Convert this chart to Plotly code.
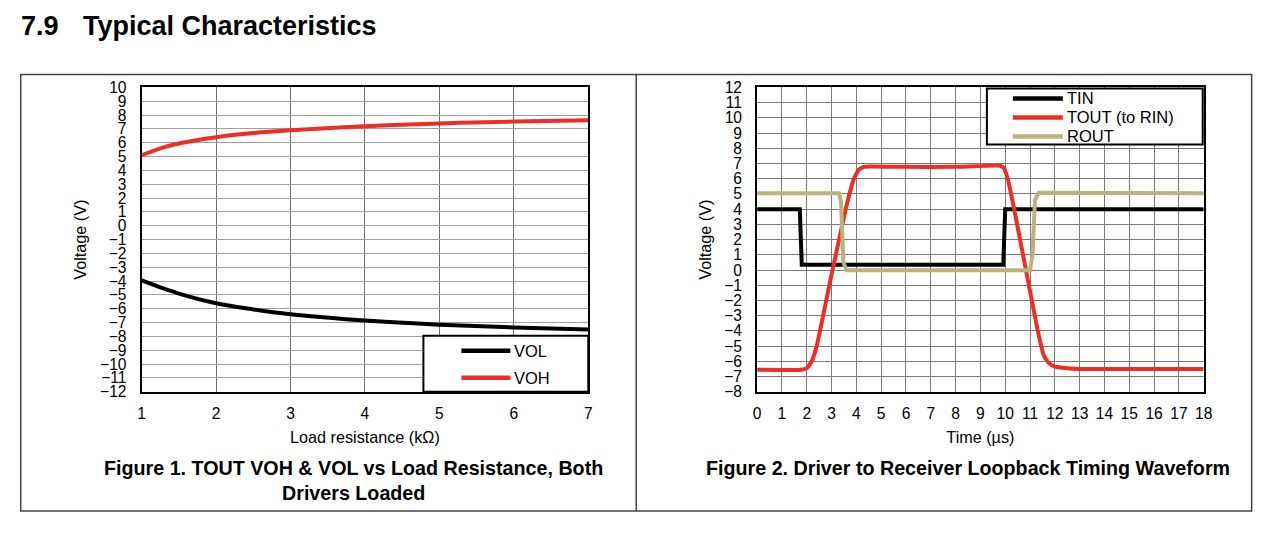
import plotly.graph_objects as go

# the page body keeps its 8px margin, so the figure is 16px smaller than the window
W, H = 1264, 532
OFF = 8
# the captured picture comes out slightly squeezed; these undo it
SX, BX = 0.9906, 3.3
SY, BY = 0.967, 9.9

# Figure 1: TOUT VOH & VOL vs load resistance
load_kohm = [1, 1.25, 1.5, 2, 2.5, 3, 4, 5, 6, 7]
vol = [-3.95, -4.45, -4.9, -5.6, -6.05, -6.4, -6.85, -7.15, -7.35, -7.5]
voh = [5.1, 5.6, 5.95, 6.4, 6.7, 6.9, 7.2, 7.4, 7.53, 7.63]

# Figure 2: loopback timing waveform
tin_t = [0, 1.72, 1.8, 9.92, 10.0, 18]
tin_v = [4, 4, 0.35, 0.35, 4, 4]

tout_t = [0, 1.8, 2.0, 2.2, 2.4, 3.0, 3.6, 3.9, 4.1, 4.3, 4.6, 6, 8, 9.8,
          9.95, 10.1, 10.3, 10.8, 11.3, 11.55, 11.75, 12.0, 12.5, 13, 18]
tout_v = [-6.55, -6.55, -6.45, -6.0, -5.0, -0.3, 4.2, 6.0, 6.6, 6.78, 6.8, 6.78,
          6.78, 6.85, 6.7, 6.0, 4.5, 0.3, -3.9, -5.6, -6.1, -6.35, -6.45, -6.5, -6.5]

rout_t = [0, 3.3, 3.38, 3.48, 3.6, 11.0, 11.1, 11.2, 11.35, 18]
rout_v = [5.05, 5.05, 4.5, 0.5, -0.02, -0.02, 1.0, 4.6, 5.08, 5.05]

RED = "#EE2E24"
OLIVE = "#BAB47C"
FONT = "Liberation Sans, Arial, sans-serif"


def px(x):
    return ((x - BX) / SX - OFF) / W


def py(y):
    return 1 - ((y - BY) / SY - OFF) / H


fig = go.Figure()

fig.add_trace(go.Scatter(x=load_kohm, y=vol, name="VOL", mode="lines",
                         line=dict(color="black", width=4, shape="spline")))
fig.add_trace(go.Scatter(x=load_kohm, y=voh, name="VOH", mode="lines",
                         line=dict(color=RED, width=4, shape="spline")))

fig.add_trace(go.Scatter(x=tin_t, y=tin_v, name="TIN", mode="lines",
                         line=dict(color="black", width=4),
                         xaxis="x2", yaxis="y2"))
fig.add_trace(go.Scatter(x=tout_t, y=tout_v, name="TOUT (to RIN)", mode="lines",
                         line=dict(color=RED, width=4, shape="spline", smoothing=0.4),
                         xaxis="x2", yaxis="y2"))
fig.add_trace(go.Scatter(x=rout_t, y=rout_v, name="ROUT", mode="lines",
                         line=dict(color=OLIVE, width=4),
                         xaxis="x2", yaxis="y2"))

axis_common = dict(showline=True, linecolor="black", linewidth=2, mirror=True,
                   ticks="", zeroline=False, dtick=1, gridwidth=1,
                   tickfont=dict(size=15.6, color="black"),
                   title_font=dict(size=16.2, color="black"))

fig.update_layout(
    width=W, height=H,
    margin=dict(l=0, r=0, t=0, b=0),
    paper_bgcolor="white", plot_bgcolor="white",
    font=dict(family=FONT, color="black"),
    showlegend=False,
    xaxis=dict(axis_common, domain=[px(141), px(588)], range=[1, 7],
               gridcolor="#6E6E6E", anchor="y", ticklabelstandoff=7,
               title=dict(text="Load resistance (kΩ)", standoff=10)),
    yaxis=dict(axis_common, domain=[py(392), py(88)], range=[-12, 10],
               gridcolor="#A0A0A0", anchor="x", ticklabelstandoff=10,
               title=dict(text="Voltage (V)", standoff=9)),
    xaxis2=dict(axis_common, domain=[px(757), px(1204)], range=[0, 18],
                gridcolor="#7A7A7A", anchor="y2", ticklabelstandoff=7,
                title=dict(text="Time (µs)", standoff=10)),
    yaxis2=dict(axis_common, domain=[py(392), py(88)], range=[-8, 12],
                gridcolor="#7A7A7A", anchor="x2", ticklabelstandoff=10,
                title=dict(text="Voltage (V)", standoff=9)),
)

shapes = [
    # outer frame and divider
    dict(type="rect", x0=px(20), x1=px(1252), y0=py(511), y1=py(75),
         line=dict(color="#444444", width=1.5)),
    dict(type="line", x0=px(636), x1=px(636), y0=py(511), y1=py(75),
         line=dict(color="#444444", width=1.5)),
    # legend boxes
    dict(type="rect", x0=px(423), x1=px(588), y0=py(392), y1=py(336),
         fillcolor="white", line=dict(color="black", width=2), layer="above"),
    dict(type="rect", x0=px(987), x1=px(1203), y0=py(145), y1=py(89),
         fillcolor="white", line=dict(color="black", width=2), layer="above"),
]

annotations = [
    dict(text="<b>7.9</b>", x=px(18), y=py(27), xanchor="left", yanchor="middle",
         font=dict(size=27)),
    dict(text="<b>Typical Characteristics</b>", x=px(80), y=py(27),
         xanchor="left", yanchor="middle", font=dict(size=27)),
    dict(text="<b>Figure 1. TOUT VOH & VOL vs Load Resistance, Both</b>",
         x=px(353), y=py(468), xanchor="center", yanchor="middle",
         font=dict(size=19.7)),
    dict(text="<b>Drivers Loaded</b>", x=px(353), y=py(493),
         xanchor="center", yanchor="middle", font=dict(size=19.7)),
    dict(text="<b>Figure 2. Driver to Receiver Loopback Timing Waveform</b>",
         x=px(968), y=py(468), xanchor="center", yanchor="middle",
         font=dict(size=19.7)),
]

# legends: a short line sample and the trace name, placed inside the boxes
legend_rows = [
    (fig.data[0], 461, 510, 351),
    (fig.data[1], 461, 510, 378),
    (fig.data[2], 1013, 1063, 99),
    (fig.data[3], 1013, 1063, 118),
    (fig.data[4], 1013, 1063, 137),
]
for tr, x0, x1, y in legend_rows:
    shapes.append(dict(type="line", x0=px(x0), x1=px(x1), y0=py(y), y1=py(y),
                       line=dict(color=tr.line.color, width=4.5), layer="above"))
    annotations.append(dict(text=tr.name, x=px(x1 + 2), y=py(y), xanchor="left",
                            yanchor="middle", font=dict(size=16.5)))

for s in shapes:
    s.update(xref="paper", yref="paper")
for a in annotations:
    a.update(xref="paper", yref="paper", showarrow=False)
    a["font"] = dict(a["font"], family=FONT, color="black")
fig.update_layout(shapes=shapes, annotations=annotations)

fig.write_html("out.html")
